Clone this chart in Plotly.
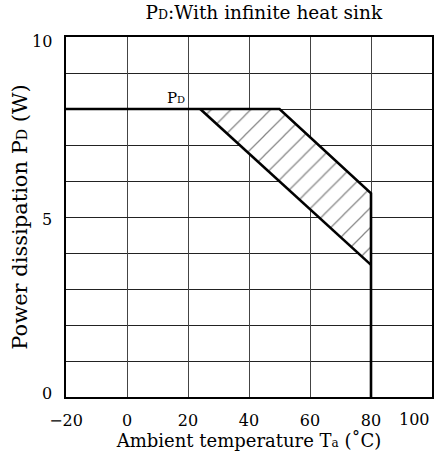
import plotly.graph_objects as go

# Derating curve data
upper_x = [-20, 50, 80, 80]
upper_y = [8, 8, 5.66, 0]
lower_x = [24, 80]
lower_y = [8, 3.67]
hatch_x = [24, 50, 80, 80, 24]
hatch_y = [8, 8, 5.66, 3.67, 8]

x_ticks = [-20, 0, 20, 40, 60, 80, 100]
x_labels = ["\u221220", "0", "20", "40", "60", "80", ""]
y_ticks = [0, 5, 10]
y_label_shift = [4, -2, -4]   # label offsets in px as in the reference

FONT = "DejaVu Serif"

fig = go.Figure()
fig.add_trace(go.Scatter(
    x=hatch_x, y=hatch_y, mode="none", fill="toself",
    fillcolor="rgba(0,0,0,0)",
    fillpattern=dict(shape="/", size=14, solidity=0.09, fgcolor="#111", bgcolor="white"),
    hoverinfo="skip", showlegend=False))
fig.add_trace(go.Scatter(x=upper_x, y=upper_y, mode="lines",
                         line=dict(color="black", width=2.6), showlegend=False))
fig.add_trace(go.Scatter(x=lower_x, y=lower_y, mode="lines",
                         line=dict(color="black", width=2.6), showlegend=False))

fig.add_annotation(x=16, y=8, yanchor="bottom", xanchor="center", showarrow=False,
                   text='P<span style="font-size:10px">D</span>',
                   font=dict(family=FONT, size=15, color="black"))

# y tick labels
for v, s in zip(y_ticks, y_label_shift):
    fig.add_annotation(x=0, xref="paper", y=v, yref="y", xanchor="right", yanchor="middle",
                       xshift=-12, yshift=s, showarrow=False, text=str(v),
                       font=dict(family=FONT, size=16, color="black"))
# last x tick label kept inside the page
fig.add_annotation(x=1, xref="paper", y=0, yref="paper", xanchor="right", yanchor="middle",
                   yshift=-22, showarrow=False, text=str(x_ticks[-1]),
                   font=dict(family=FONT, size=16, color="black"))

fig.update_layout(
    width=434, height=459,
    margin=dict(l=66, r=2, t=37, b=62),
    paper_bgcolor="white", plot_bgcolor="white",
    font=dict(family=FONT, size=16, color="black"),
    title=dict(text='P<span style="font-size:12.5px">D</span>:With infinite heat sink',
               x=0.608, xanchor="center", y=1 - 13 / 459, yanchor="middle",
               font=dict(family=FONT, size=18.5, color="black")),
)
fig.update_xaxes(range=[-20, 100], tickvals=x_ticks, ticktext=x_labels, showgrid=True,
                 gridcolor="#444", gridwidth=1, zeroline=False,
                 showline=True, linecolor="black", linewidth=1.5, mirror=True,
                 ticks="", tickfont=dict(size=16), ticklabelstandoff=8,
                 title=dict(text='Ambient temperature T<span style="font-size:12px">a</span> (˚C)',
                            font=dict(size=18), standoff=2))
fig.update_yaxes(range=[0, 10], tickvals=y_ticks, ticktext=["", "", ""], showgrid=True,
                 gridcolor="#222", gridwidth=1, zeroline=False,
                 showline=True, linecolor="black", linewidth=1.5, mirror=True,
                 ticks="", automargin=False,
                 minor=dict(dtick=1, showgrid=True, gridcolor="#222", gridwidth=1),
                 title=dict(text='Power dissipation P<span style="font-size:14px">D</span> (W)',
                            font=dict(size=21), standoff=28))

fig.write_html("out.html", config={"displayModeBar": False},
               post_script="document.body.style.margin='0';")
